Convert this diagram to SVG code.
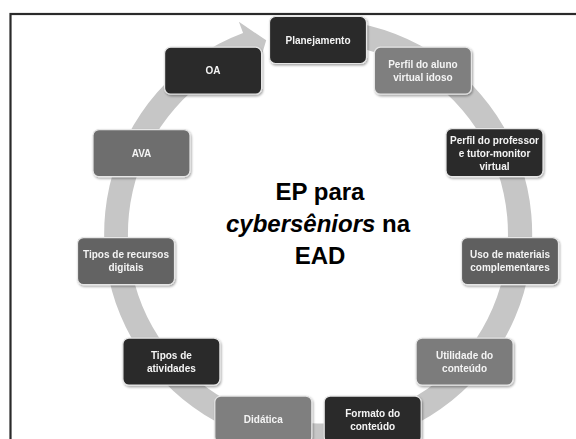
<svg xmlns="http://www.w3.org/2000/svg" width="576" height="439" viewBox="0 0 576 439">
<style>
.box{stroke:#e6e6e6;stroke-width:1.2}
.dk{fill:#2b2b2b}
.lbl{font-family:"Liberation Sans",Arial,sans-serif;font-weight:bold;font-size:10px;fill:#f4f4f4;text-anchor:middle}
.title{font-family:"Liberation Sans",Arial,sans-serif;font-weight:bold;font-size:24px;fill:#000;text-anchor:middle}
</style>
<defs>
<filter id="sh" x="-10%" y="-10%" width="130%" height="140%">
<feDropShadow dx="1" dy="1.5" stdDeviation="1" flood-color="#000" flood-opacity="0.35"/>
</filter>
</defs>
<rect x="0" y="0" width="576" height="439" fill="#fff"/>
<rect x="10.5" y="14" width="620" height="500" fill="none" stroke="#2a2a2a" stroke-width="2.2"/>
<g id="connectors">
<path d="M 318 19.5 A 214 214 0 1 1 243.1 33.1 L 238.9 21.8 L 266.2 40.3 L 257.1 70.5 L 251.5 55.5 A 190 190 0 1 0 318 43.5 Z" fill="#c6c6c6"/>
</g>
<g id="n-planejamento" filter="url(#sh)">
<rect class="box dk" x="269.5" y="16.5" width="97" height="47" rx="6"/>
<text class="lbl" x="318" y="43.5">Planejamento</text>
</g>
<g id="n-perfil-aluno" filter="url(#sh)">
<rect class="box" fill="#7f7f7f" x="374.4" y="47.2" width="97" height="47" rx="6"/>
<text class="lbl" x="422.9" y="67.7">Perfil do aluno</text>
<text class="lbl" x="422.9" y="80.7">virtual idoso</text>
</g>
<g id="n-perfil-professor" filter="url(#sh)">
<rect class="box dk" x="446" y="128.6" width="97" height="48" rx="6"/>
<text class="lbl" x="494.5" y="143.6">Perfil do professor</text>
<text class="lbl" x="494.5" y="156.6">e tutor-monitor</text>
<text class="lbl" x="494.5" y="169.6">virtual</text>
</g>
<g id="n-uso" filter="url(#sh)">
<rect class="box" fill="#5e5e5e" x="461.5" y="237.6" width="97" height="47" rx="6"/>
<text class="lbl" x="510" y="258.1">Uso de materiais</text>
<text class="lbl" x="510" y="271.1">complementares</text>
</g>
<g id="n-utilidade" filter="url(#sh)">
<rect class="box" fill="#7b7b7b" x="416.1" y="338.1" width="97" height="47" rx="6"/>
<text class="lbl" x="464.6" y="358.6">Utilidade do</text>
<text class="lbl" x="464.6" y="371.6">conteúdo</text>
</g>
<g id="n-formato" filter="url(#sh)">
<rect class="box dk" x="324.2" y="396.1" width="97" height="47" rx="6"/>
<text class="lbl" x="372.7" y="416.6">Formato do</text>
<text class="lbl" x="372.7" y="429.6">conteúdo</text>
</g>
<g id="n-didatica" filter="url(#sh)">
<rect class="box" fill="#7f7f7f" x="214.8" y="396.1" width="97" height="47" rx="6"/>
<text class="lbl" x="263.3" y="423.1">Didática</text>
</g>
<g id="n-tipos-atividades" filter="url(#sh)">
<rect class="box dk" x="122.9" y="338.1" width="97" height="47" rx="6"/>
<text class="lbl" x="171.4" y="358.6">Tipos de</text>
<text class="lbl" x="171.4" y="371.6">atividades</text>
</g>
<g id="n-tipos-recursos" filter="url(#sh)">
<rect class="box" fill="#636363" x="77.5" y="237.6" width="97" height="47" rx="6"/>
<text class="lbl" x="126" y="258.1">Tipos de recursos</text>
<text class="lbl" x="126" y="271.1">digitais</text>
</g>
<g id="n-ava" filter="url(#sh)">
<rect class="box" fill="#6e6e6e" x="93" y="129.6" width="97" height="47" rx="6"/>
<text class="lbl" x="141.5" y="156.6">AVA</text>
</g>
<g id="n-oa" filter="url(#sh)">
<rect class="box dk" x="164.6" y="47.2" width="97" height="47" rx="6"/>
<text class="lbl" x="213.1" y="74.2">OA</text>
</g>
<g id="title">
<text class="title" x="320" y="200">EP para</text>
<text class="title" x="318" y="232"><tspan font-style="italic">cybersêniors</tspan> na</text>
<text class="title" x="320" y="264">EAD</text>
</g>
</svg>
